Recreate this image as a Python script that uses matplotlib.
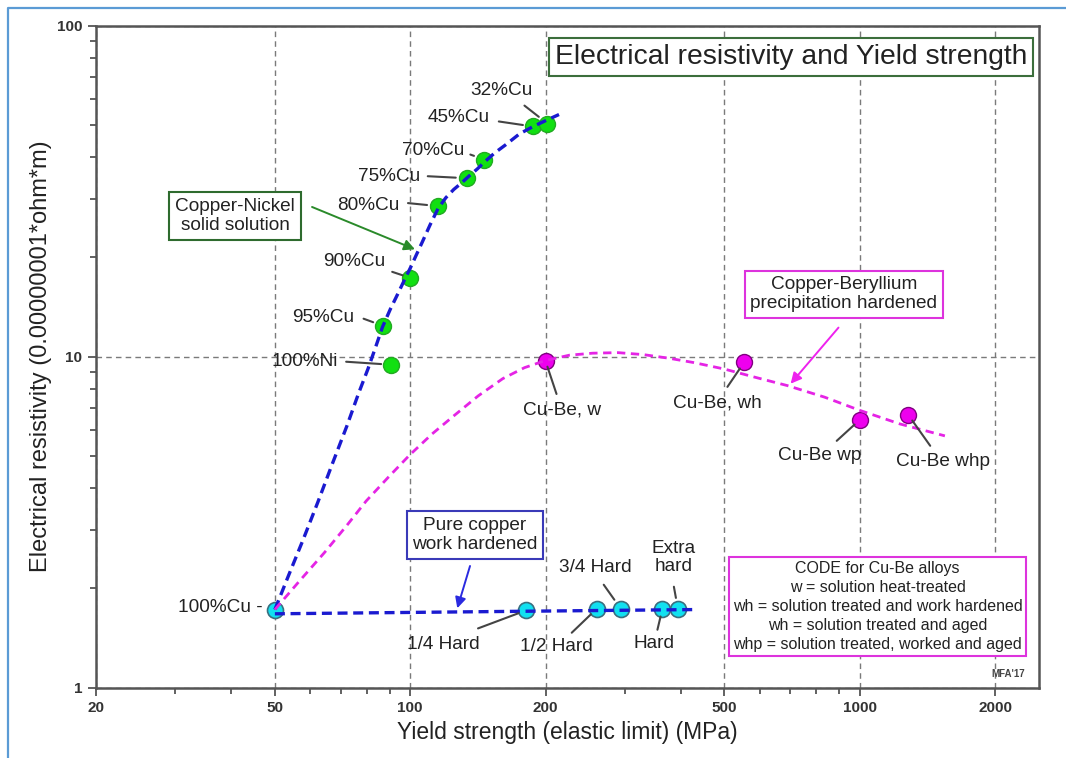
import matplotlib.pyplot as plt
from matplotlib.lines import Line2D
from matplotlib.ticker import NullFormatter

plt.rcParams['font.family'] = ['Liberation Sans', 'DejaVu Sans']

# yield strength (MPa) and resistivity (1e-8 ohm*m)
cuni_names = ['100%Ni', '95%Cu', '90%Cu', '80%Cu', '75%Cu', '70%Cu', '45%Cu', '32%Cu']
cuni_yield = [90.7, 86.8, 100, 115.3, 133.6, 146.2, 187.4, 202]
cuni_rho = [9.45, 12.4, 17.3, 28.5, 34.6, 39.4, 49.6, 50.6]

cuni_trend_yield = [50, 53.7, 57.8, 62.3, 67.1, 72.3, 76.7, 80.6, 83.8, 86.8, 90.3,
                    93.9, 97.2, 100.2, 103.2, 106.4, 110.7, 115.3, 120.0, 125.0, 130.1,
                    135.4, 141.0, 146.8, 154.3, 163.2, 175.0, 188.3, 201.6, 214.3]
cuni_trend_rho = [1.72, 2.19, 2.80, 3.63, 4.74, 6.17, 7.72, 9.20, 10.7, 12.3, 13.9,
                  15.5, 17.1, 18.6, 20.3, 22.2, 25.0, 28.0, 30.2, 32.0, 33.5,
                  35.2, 36.9, 38.9, 41.3, 43.7, 47.1, 49.7, 51.9, 53.9]

cube_names = ['Cu-Be, w', 'Cu-Be, wh', 'Cu-Be wp', 'Cu-Be whp']
cube_yield = [200, 554, 1000, 1282]
cube_rho = [9.7, 9.64, 6.44, 6.67]

cube_trend_yield = [50, 56.4, 64.5, 72.3, 79.8, 89.4, 99.7, 111.9, 125.0, 141.7, 160.7,
                    179.6, 199.5, 226, 254.6, 289.9, 330, 375.8, 427.9, 500, 583.4,
                    691, 835.6, 1000, 1228, 1547]
cube_trend_rho = [1.72, 2.08, 2.56, 3.09, 3.66, 4.32, 5.04, 5.84, 6.62, 7.61, 8.58,
                  9.26, 9.72, 10.1, 10.24, 10.28, 10.14, 9.89, 9.59, 9.17, 8.67,
                  8.17, 7.54, 6.88, 6.26, 5.76]

cu_names = ['100%Cu -', '1/4 Hard', '1/2 Hard', '3/4 Hard', 'Hard', 'Extra\nhard']
cu_yield = [50, 181, 260, 294, 364, 394]
cu_rho = [1.72, 1.71, 1.73, 1.73, 1.73, 1.73]

cu_trend_yield = [50, 180, 430]
cu_trend_rho = [1.67, 1.70, 1.72]

x_major = [20, 50, 100, 200, 500, 1000, 2000]
x_minor = [30, 40, 60, 70, 80, 90, 300, 400, 600, 700, 800, 900]

code_lines = ['CODE for Cu-Be alloys',
              'w = solution heat-treated',
              'wh = solution treated and work hardened',
              'wh = solution treated and aged',
              'whp = solution treated, worked and aged']

TXT = '#222222'
AXC = '#555555'

fig = plt.figure(figsize=(10.66, 7.58), dpi=100)
ax = fig.add_axes([96 / 1066, 70.5 / 758, 942.6 / 1066, 661.8 / 758])
ax.set_xscale('log')
ax.set_yscale('log')
ax.set_xlim(20, 2500)
ax.set_ylim(1, 100)

ax.set_xticks(x_major)
ax.set_xticklabels([str(v) for v in x_major])
ax.set_xticks(x_minor, minor=True)
ax.xaxis.set_minor_formatter(NullFormatter())
ax.set_yticks([1, 10, 100])
ax.set_yticklabels(['1', '10', '100'])
ax.yaxis.set_minor_formatter(NullFormatter())
ax.tick_params(which='both', direction='out', color=AXC, width=1.3,
               labelsize=11, labelcolor='#333333')
ax.tick_params(which='major', length=6, pad=4)
ax.tick_params(which='minor', length=4)
for lab in ax.get_xticklabels() + ax.get_yticklabels():
    lab.set_fontweight('bold')
for sp in ax.spines.values():
    sp.set_color(AXC)
    sp.set_linewidth(1.8)

ax.grid(True, which='major', color='#7a7a7a', lw=1.0, ls=(0, (4, 3)))
ax.set_axisbelow(True)

ax.set_xlabel('Yield strength (elastic limit) (MPa)', fontsize=16.5, color=TXT, labelpad=4)
ax.set_ylabel('Electrical resistivity (0.00000001*ohm*m)', fontsize=17, color=TXT)
ax.yaxis.set_label_coords(-0.047, 0.5)

# markers first, dashed trend lines drawn over them
ax.plot(cuni_yield, cuni_rho, 'o', ms=11.5, mfc='#11e011', mec='#22aa22', mew=1.0, zorder=3)
ax.plot(cube_yield, cube_rho, 'o', ms=11.5, mfc='#ee00ee', mec='#800080', mew=1.0, zorder=3)
ax.plot(cu_yield, cu_rho, 'o', ms=11.5, mfc='#11e0f0', mec='#3a7080', mew=1.2, zorder=3)

ax.plot(cuni_trend_yield, cuni_trend_rho, color='#1a1ad0', lw=2.4, ls=(0, (3, 1.7)), zorder=4)
ax.plot(cube_trend_yield, cube_trend_rho, color='#e524e5', lw=2.0, ls=(0, (3, 2)), zorder=4)
ax.plot(cu_trend_yield, cu_trend_rho, color='#1a1ad0', lw=2.4, ls=(0, (3, 1.7)), zorder=4)


def tag(x, y, text, off, lead=None, gap=8):
    ax.annotate(text, (x, y), xytext=off, textcoords='offset pixels',
                ha='center', va='center', fontsize=13.7, color=TXT,
                linespacing=1.1, zorder=6)
    if lead is not None:
        ax.annotate('', (x, y), xytext=lead, textcoords='offset pixels',
                    arrowprops=dict(arrowstyle='-', color='#444444', lw=1.5,
                                    shrinkA=0, shrinkB=gap * 0.72), zorder=5)


# copper-nickel labels: text offset, leader start, gap to the point (pixels)
cuni_layout = [((-86, 3), (-45, 3), 10),
               ((-59, 8), (-19, 7), 10),
               ((-56, 16), (-18, 6), 8),
               ((-70, 1), (-30, 3), 11),
               ((-78, 2), (-39, 2), 11),
               ((-51, 9), (-14, 5), 11),
               ((-74, 9), (-34, 5), 10),
               ((-46, 33), (-23, 18), 11)]
for name, x, y, (off, lead, gap) in zip(cuni_names, cuni_yield, cuni_rho, cuni_layout):
    tag(x, y, name, off, lead, gap)

cube_layout = [((17, -49), (11, -33), 6),
               ((-27, -41), (-17, -25), 8),
               ((-40, -36), (-23, -21), 7),
               ((35, -47), (22, -31), 7)]
for name, x, y, (off, lead, gap) in zip(cube_names, cube_yield, cube_rho, cube_layout):
    tag(x, y, name, off, lead, gap)

cu_layout = [((-55, 2), None, 0),
             ((-83, -34), (-48, -18), 8),
             ((-40, -38), (-25, -24), 8),
             ((-25, 41), (-17, 24), 11),
             ((-8, -35), (-5, -21), 8),
             ((-4, 51), (-4, 22), 11)]
for name, x, y, (off, lead, gap) in zip(cu_names, cu_yield, cu_rho, cu_layout):
    tag(x, y, name, off, lead, gap)


def boxed(text, pos, edge, size=13.7, pad=0.3, lw=1.5, **kw):
    ax.text(pos[0], pos[1], text, transform=ax.transAxes, ha='center', va='center',
            fontsize=size, color=TXT, zorder=7, **kw,
            bbox=dict(boxstyle=f'square,pad={pad}', fc='white', ec=edge, lw=lw))


def arrow(tail, head, color):
    ax.annotate('', head, xytext=tail, xycoords='axes fraction', textcoords='axes fraction',
                arrowprops=dict(arrowstyle='-|>', color=color, lw=1.4, mutation_scale=16,
                                shrinkA=0, shrinkB=0), zorder=7)


boxed('Electrical resistivity and Yield strength', (0.7373, 0.9527), '#3c6e3c', size=20.3, pad=0.22)
boxed('Copper-Nickel\nsolid solution', (0.1475, 0.7124), '#2e6b2e', linespacing=1.15)
boxed('Copper-Beryllium\nprecipitation hardened', (0.7934, 0.5941), '#dd33dd', linespacing=1.15)
boxed('Pure copper\nwork hardened', (0.4021, 0.2304), '#3a3ab8', linespacing=1.15)
boxed('\n'.join(code_lines), (0.8291, 0.1224), '#dd33dd', size=11.5, pad=0.25, linespacing=1.32)

arrow((0.2292, 0.7261), (0.3384, 0.6621), '#2a8a2a')
arrow((0.7877, 0.5438), (0.7369, 0.459), '#ee22ee')
arrow((0.3968, 0.1836), (0.3833, 0.1197), '#2a2ae0')

ax.text(0.9679, 0.0204, "MFA'17", transform=ax.transAxes, ha='center', va='center',
        fontsize=7, fontweight='bold', color='#444444')

# thin blue frame along top and left
fig.add_artist(Line2D([8 / 1066, 8 / 1066, 1], [0, 1 - 8 / 758, 1 - 8 / 758],
                      color='#5b9bd5', lw=1.6, transform=fig.transFigure))

fig.savefig('out.png', dpi=100, facecolor='white')
